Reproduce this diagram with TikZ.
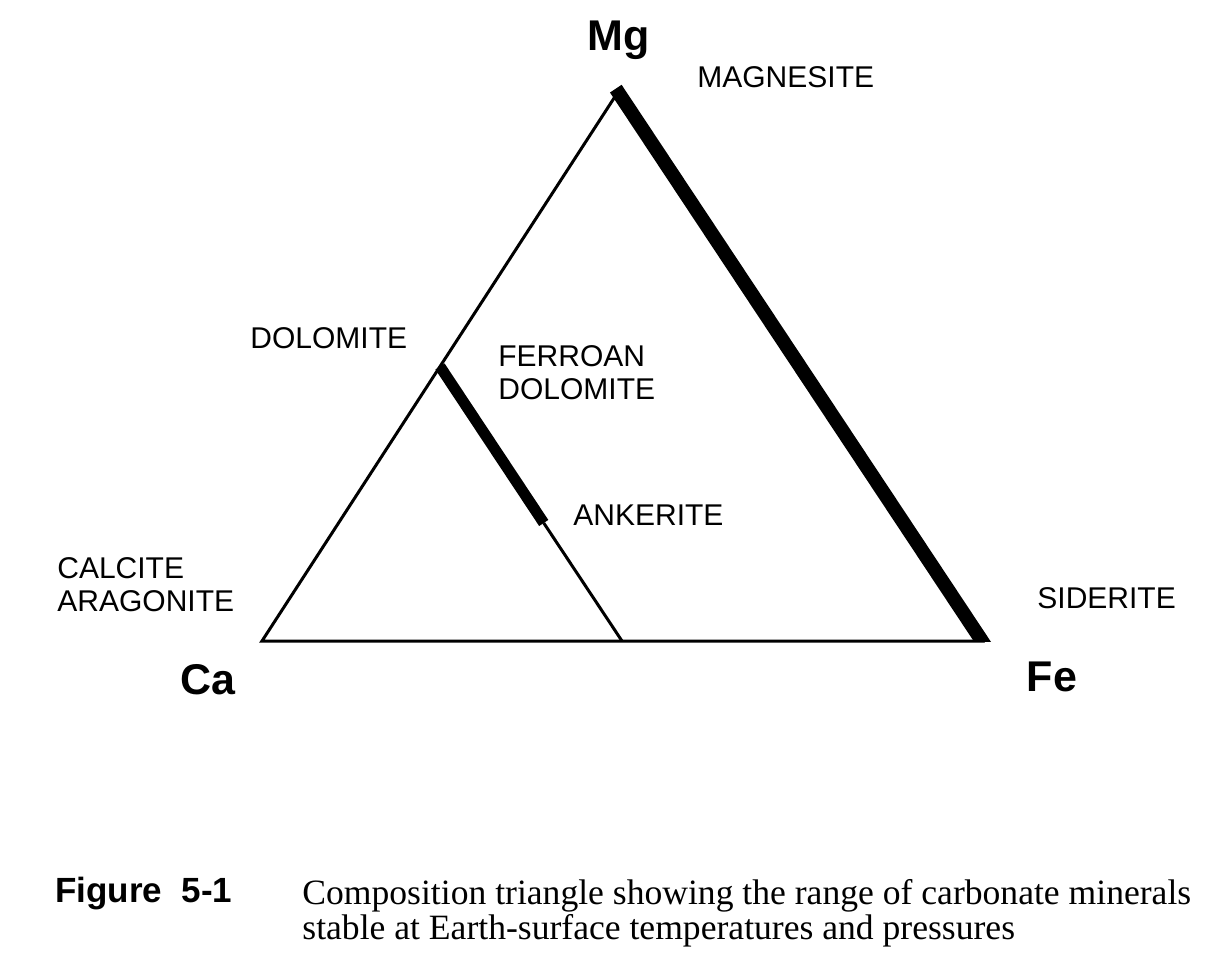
\documentclass[tikz,border=0pt]{standalone}
\usepackage{fontspec}
\setmainfont{Liberation Sans}
\newfontfamily\capfont{Liberation Serif}
\usetikzlibrary{calc, positioning}

\begin{document}
\begin{tikzpicture}[x=0.5pt, y=-0.5pt]
	\tikzstyle{edgeline} = [line width=1.5pt, line join=miter]
	\tikzstyle{band} = [line width=7pt, line cap=butt]
	\tikzstyle{mineral} = [font=\fontsize{15}{17}\selectfont, inner sep=0pt, align=left]
	\tikzstyle{element} = [font=\fontsize{21.5}{23}\selectfont\bfseries, inner sep=0pt]

	\useasboundingbox[fill=white] (0,0) rectangle (1212,970);

	% corners of the triangle
	\coordinate (Ca) at (262,641);
	\coordinate (Fe) at (982,641);
	\coordinate (Mg) at (618,92);
	\coordinate (Dol) at ($(Ca)!0.5!(Mg)$);
	\coordinate (Mid) at ($(Ca)!0.5!(Fe)$);
	\coordinate (Ank) at ($(Dol)!0.57!(Mid)$);

	\draw[edgeline] (Ca) -- (Mg) -- (Fe) -- cycle;
	\draw[edgeline] (Ank) -- (Mid);

	% solid solution ranges
	\begin{scope}
		\clip (0,0) rectangle (1212,641.75);
		\draw[band] ($(Mg)!-2pt!(Fe)$) -- ($(Mg)!1.02!(Fe)$);
	\end{scope}
	\draw[band, line width=5.5pt] (Dol) -- (Ank);

	% labels
	\node[element] (mg) at (619,40) {Mg};
	\node[element] (ca) at (208,680) {Ca};
	\node[element] (fe) at (1052,677) {Fe};

	\node[mineral, anchor=west] (magnesite) at (697,77) {MAGNESITE};
	\node[mineral, anchor=west] (dolomite) at (250,338) {DOLOMITE};
	\node[mineral, anchor=west] (ferroan) at (498,373) {FERROAN\\[-0.5pt]DOLOMITE};
	\node[mineral, anchor=west] (ankerite) at (573,515) {ANKERITE};
	\node[mineral, anchor=west] (calcite) at (57,585) {CALCITE\\[-0.5pt]ARAGONITE};
	\node[mineral, anchor=west] (siderite) at (1037,598) {SIDERITE};

	% caption
	\node[anchor=west, inner sep=0pt, font=\fontsize{17.5}{18}\selectfont\bfseries] (fig) at (55,894) {Figure\hspace{0.55em}5-1};
	\node[anchor=north west, inner sep=0pt, align=left, font=\capfont\fontsize{17.8}{17.5}\selectfont] (caption) at (302,879)
		{Composition triangle showing the range of carbonate minerals\\stable at Earth-surface temperatures and pressures};
\end{tikzpicture}
\end{document}
